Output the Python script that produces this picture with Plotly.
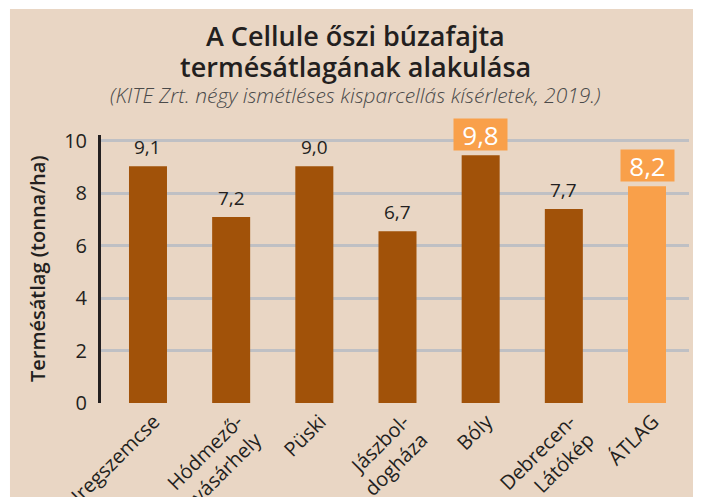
import plotly.graph_objects as go

categories = ["Iregszemcse", "Hódmező-<br>vásárhely", "Püski", "Jászbol-<br>dogháza",
              "Bóly", "Debrecen-<br>Látókép", "ÁTLAG"]
bar_heights = [9.03, 7.09, 9.03, 6.55, 9.45, 7.40, 8.27]
value_labels = ["9,1", "7,2", "9,0", "6,7", "9,8", "7,7", "8,2"]
highlighted = [False, False, False, False, True, False, True]
bar_colors = ["#a15209"] * 6 + ["#f9a04a"]
y_ticks = [0, 2, 4, 6, 8, 10]

title_lines = ["A Cellule őszi búzafajta", "termésátlagának alakulása"]
subtitle = "(KITE Zrt. négy ismétléses kisparcellás kísérletek, 2019.)"
y_title = "Termésátlag (tonna/ha)"

BEIGE = "#e9d6c4"
DARK = "#231f20"
FONT = "Open Sans"

fig = go.Figure()
fig.add_trace(go.Bar(x=list(range(len(categories))), y=bar_heights,
                     marker=dict(color=bar_colors, line=dict(width=0)),
                     width=0.457, hoverinfo="skip"))

for i, (h, lab, hl) in enumerate(zip(bar_heights, value_labels, highlighted)):
    if hl:
        fig.add_annotation(x=i, y=h, xref="x", yref="y", text=lab, showarrow=False,
                           yanchor="bottom", yshift=4, width=53, height=31,
                           bgcolor="#f9a04a", borderpad=0,
                           font=dict(family=FONT, size=26, color="white"))
    else:
        fig.add_annotation(x=i, y=h, xref="x", yref="y", text=lab, showarrow=False,
                           yanchor="bottom", yshift=4,
                           font=dict(family=FONT, size=19, color=DARK, weight=500))

# title block (paper y=1 is the top of the plot area)
for txt, shift, size, extra in [
    (title_lines[0], 100, 27, dict(weight=600)),
    (title_lines[1], 69, 27, dict(weight=600)),
    (subtitle, 40, 21, dict(weight=300, style="italic")),
]:
    col = DARK if size > 21 else "#4a4a4a"
    fig.add_annotation(x=0.432, y=1.0, xref="paper", yref="paper", xanchor="center",
                       yanchor="middle", text=txt, showarrow=False, yshift=shift,
                       font=dict(family=FONT, size=size, color=col, **extra))

# y-axis title
fig.add_annotation(x=-0.1088, y=0.5, xref="paper", yref="paper", xanchor="center",
                   yanchor="middle", text=y_title, textangle=-90, showarrow=False,
                   font=dict(family=FONT, size=20, color=DARK, weight=600))

fig.update_layout(
    width=693, height=489,
    margin=dict(l=93, r=12, t=127, b=94),
    paper_bgcolor="white", plot_bgcolor=BEIGE,
    showlegend=False,
    shapes=[dict(type="rect", xref="paper", yref="paper", x0=-0.1548, x1=1.0136,
                 y0=-0.351, y1=1.470, fillcolor=BEIGE, line=dict(width=0), layer="below")],
)

fig.update_xaxes(tickvals=list(range(len(categories))), ticktext=categories,
                 range=[-0.565, 6.505], tickangle=-45, automargin=False,
                 tickfont=dict(family=FONT, size=20, color=DARK),
                 ticks="", ticklabelstandoff=2, ticklabelshift=6,
                 showgrid=False, zeroline=False, showline=False)
fig.update_yaxes(range=[0, 10.22], tickvals=y_ticks, automargin=False,
                 tickfont=dict(family=FONT, size=20, color=DARK),
                 ticks="outside", ticklen=7, tickcolor="rgba(0,0,0,0)",
                 showgrid=True, gridcolor="#bfc0c4", gridwidth=2.5,
                 zeroline=False, showline=True, linecolor=DARK, linewidth=3)

fig.write_html("out.html")
